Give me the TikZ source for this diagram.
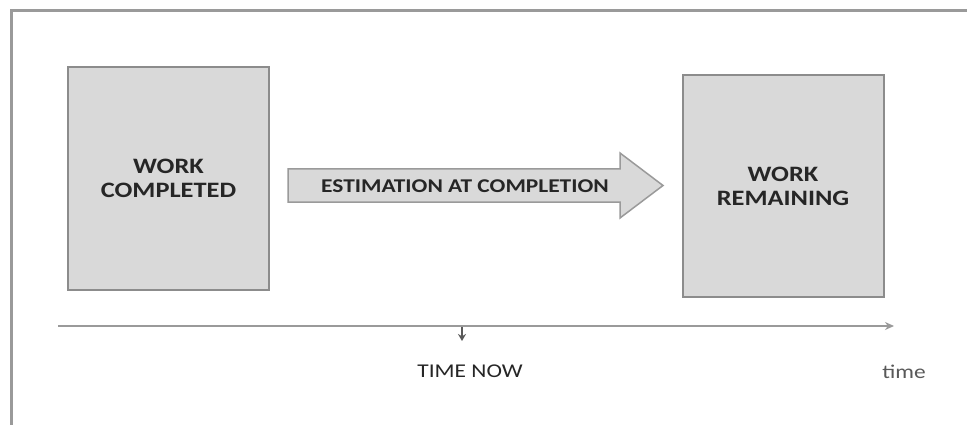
\documentclass[tikz,border=0pt]{standalone}
\usepackage{fontspec}
\usetikzlibrary{arrows.meta}
\newfontfamily\lblfont[FakeStretch=1.2]{Carlito}
\definecolor{boxfill}{HTML}{D9D9D9}
\definecolor{boxline}{HTML}{8C8C8C}
\definecolor{axisline}{HTML}{9A9A9A}
\definecolor{txt}{HTML}{262626}
\begin{document}
\begin{tikzpicture}[x=1pt,y=-1pt,
  workbox/.style={draw=boxline,line width=2pt,fill=boxfill,minimum width=201pt,minimum height=222pt,inner sep=0pt,
    font=\lblfont\bfseries\fontsize{22}{24}\selectfont,text=txt,align=center},
  lbl/.style={font=\lblfont\fontsize{19.5}{22}\selectfont,text=txt,inner sep=0pt}]
\useasboundingbox[fill=white] (0,0) rectangle (967,425);
% frame
\draw[line width=3pt,color=axisline] (11,425) -- (11,11) -- (967,11);
% boxes
\node[workbox] (wc) at (168.5,178.5) {WORK\\COMPLETED};
\node[workbox] (wr) at (783,186) {WORK\\REMAINING};
% big arrow
\draw[draw=axisline,line width=1.5pt,fill=boxfill,line join=miter]
  (288,169) -- (620,169) -- (620,153) -- (663,185.5) -- (620,218) -- (620,202) -- (288,202) -- cycle;
\node[font=\lblfont\bfseries\fontsize{19.5}{22}\selectfont,text=txt,inner sep=0pt] (eac) at (465,186) {ESTIMATION AT COMPLETION};
% timeline
\coordinate (t0) at (58,326);
\coordinate (t1) at (894,326);
\draw[color=axisline,line width=2.2pt,-{Stealth[length=9pt,width=8pt]}] (t0) -- (t1);
\coordinate (d0) at (462,327);
\coordinate (d1) at (462,341);
\draw[color=black!65,line width=1.2pt,-{Stealth[length=7pt,width=8pt]}] (d0) -- (d1);
\node[lbl] (now) at (470,371) {TIME NOW};
\node[lbl,text=black!65] (time) at (904,372) {time};
\end{tikzpicture}
\end{document}
